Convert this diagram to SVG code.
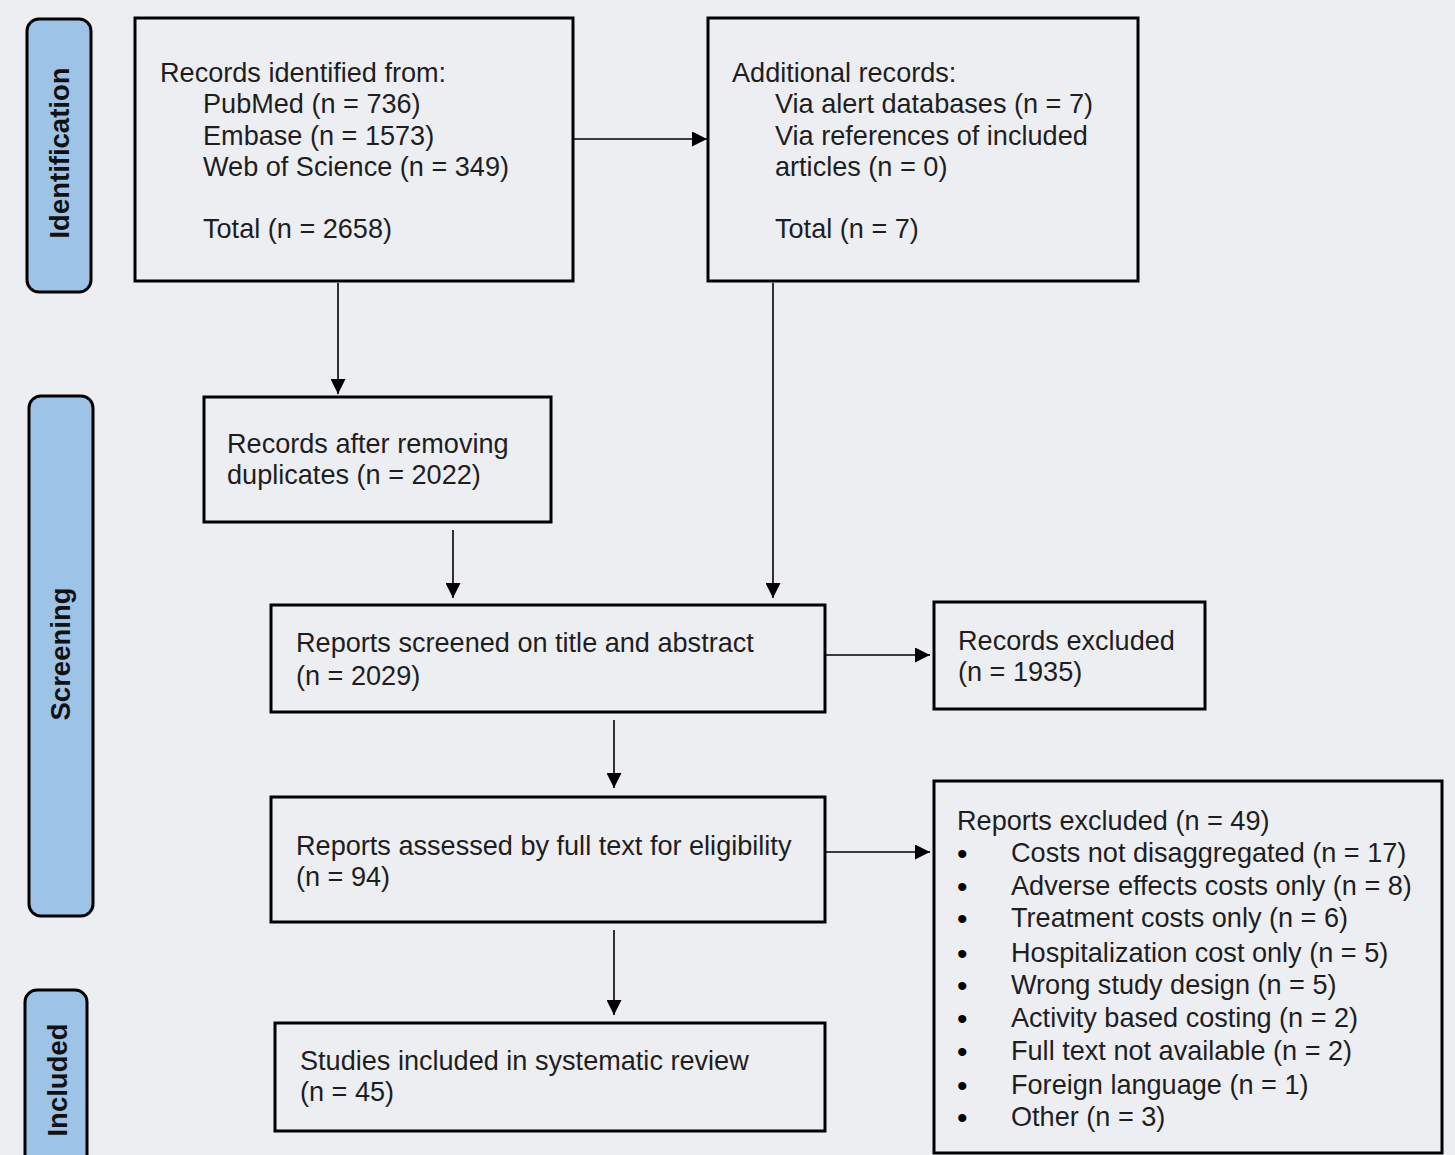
<svg xmlns="http://www.w3.org/2000/svg" width="1455" height="1155" viewBox="0 0 1455 1155">
<style>
.bg{fill:#edeef2}
.box{fill:#edeef2;stroke:#000;stroke-width:3}
.pill{fill:#9dc3e6;stroke:#000;stroke-width:3}
.t{font-family:"Liberation Sans",Arial,sans-serif;font-size:27.1px;fill:#1e1e1e}
.b{font-family:"Liberation Sans",Arial,sans-serif;font-size:30px;fill:#000}
.lbl{font-family:"Liberation Sans",Arial,sans-serif;font-size:27.5px;font-weight:bold;fill:#111;text-anchor:middle}
.c{stroke:#000;stroke-width:1.6;fill:none;marker-end:url(#ah)}
</style>
<defs>
<marker id="ah" viewBox="0 0 10 10" refX="10" refY="5" markerWidth="16" markerHeight="15" markerUnits="userSpaceOnUse" orient="auto">
<path d="M0,0 L10,5 L0,10 z" fill="#000"/>
</marker>
</defs>
<rect class="bg" x="0" y="0" width="1455" height="1155"/>
<g id="phase-identification">
<rect class="pill" x="27" y="19" width="64" height="273" rx="12"/>
<text class="lbl" transform="translate(69,153) rotate(-90)">Identification</text>
</g>
<g id="phase-screening">
<rect class="pill" x="29" y="396" width="64" height="520" rx="12"/>
<text class="lbl" transform="translate(70,654) rotate(-90)">Screening</text>
</g>
<g id="phase-included">
<rect class="pill" x="25" y="990" width="62" height="180" rx="12"/>
<text class="lbl" transform="translate(67,1080) rotate(-90)">Included</text>
</g>
<g id="connectors">
<line class="c" x1="573" y1="139" x2="707" y2="139"/>
<line class="c" x1="338" y1="283" x2="338" y2="394"/>
<line class="c" x1="773" y1="283" x2="773" y2="598"/>
<line class="c" x1="453" y1="530" x2="453" y2="598"/>
<line class="c" x1="826" y1="655" x2="930" y2="655"/>
<line class="c" x1="614" y1="720" x2="614" y2="788"/>
<line class="c" x1="826" y1="852" x2="930" y2="852"/>
<line class="c" x1="614" y1="930" x2="614" y2="1015"/>
</g>
<g id="records-identified">
<rect class="box" x="135" y="18" width="438" height="263"/>
<text class="t" x="160" y="82">Records identified from:</text>
<text class="t" x="203" y="113">PubMed (n = 736)</text>
<text class="t" x="203" y="145">Embase (n = 1573)</text>
<text class="t" x="203" y="176">Web of Science (n = 349)</text>
<text class="t" x="203" y="238">Total (n = 2658)</text>
</g>
<g id="additional-records">
<rect class="box" x="708" y="18" width="430" height="263"/>
<text class="t" x="732" y="82">Additional records:</text>
<text class="t" x="775" y="113">Via alert databases (n = 7)</text>
<text class="t" x="775" y="145">Via references of included</text>
<text class="t" x="775" y="176">articles (n = 0)</text>
<text class="t" x="775" y="238">Total (n = 7)</text>
</g>
<g id="after-duplicates">
<rect class="box" x="204" y="397" width="347" height="125"/>
<text class="t" x="227" y="453">Records after removing</text>
<text class="t" x="227" y="484">duplicates (n = 2022)</text>
</g>
<g id="screened">
<rect class="box" x="271" y="605" width="554" height="107"/>
<text class="t" x="296" y="652">Reports screened on title and abstract</text>
<text class="t" x="296" y="685">(n = 2029)</text>
</g>
<g id="records-excluded">
<rect class="box" x="934" y="602" width="271" height="107"/>
<text class="t" x="958" y="650">Records excluded</text>
<text class="t" x="958" y="681">(n = 1935)</text>
</g>
<g id="assessed">
<rect class="box" x="271" y="797" width="554" height="125"/>
<text class="t" x="296" y="855">Reports assessed by full text for eligibility</text>
<text class="t" x="296" y="886">(n = 94)</text>
</g>
<g id="reports-excluded">
<rect class="box" x="934" y="781" width="508" height="372"/>
<text class="t" x="957" y="830">Reports excluded (n = 49)</text>
<text class="b" x="957" y="864">•</text><text class="t" x="1011" y="862">Costs not disaggregated (n = 17)</text>
<text class="b" x="957" y="897">•</text><text class="t" x="1011" y="895">Adverse effects costs only (n = 8)</text>
<text class="b" x="957" y="929">•</text><text class="t" x="1011" y="927">Treatment costs only (n = 6)</text>
<text class="b" x="957" y="964">•</text><text class="t" x="1011" y="962">Hospitalization cost only (n = 5)</text>
<text class="b" x="957" y="996">•</text><text class="t" x="1011" y="994">Wrong study design (n = 5)</text>
<text class="b" x="957" y="1029">•</text><text class="t" x="1011" y="1027">Activity based costing (n = 2)</text>
<text class="b" x="957" y="1062">•</text><text class="t" x="1011" y="1060">Full text not available (n = 2)</text>
<text class="b" x="957" y="1096">•</text><text class="t" x="1011" y="1094">Foreign language (n = 1)</text>
<text class="b" x="957" y="1128">•</text><text class="t" x="1011" y="1126">Other (n = 3)</text>
</g>
<g id="included">
<rect class="box" x="275" y="1023" width="550" height="108"/>
<text class="t" x="300" y="1070">Studies included in systematic review</text>
<text class="t" x="300" y="1101">(n = 45)</text>
</g>
</svg>
